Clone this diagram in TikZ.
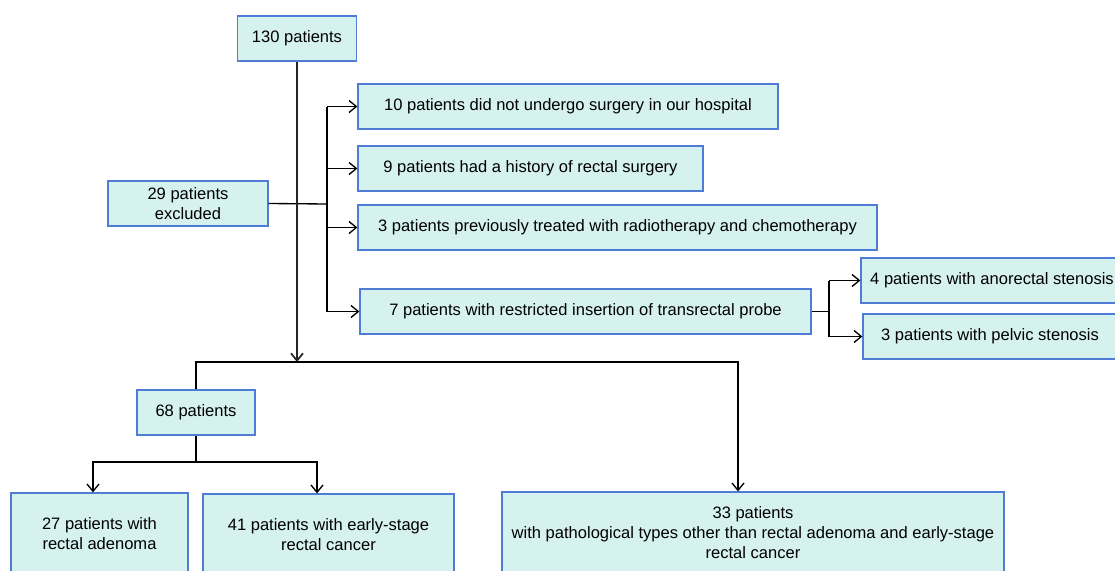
\documentclass[tikz,border=0pt]{standalone}
\usepackage{fontspec}
\setmainfont{Liberation Sans}
\usetikzlibrary{arrows.meta}
\definecolor{boxfill}{RGB}{214,242,238}
\definecolor{boxline}{RGB}{79,125,214}
\tikzstyle{box} = [rectangle, draw=boxline, line width=0.9pt, fill=boxfill, minimum height=33.75pt, inner sep=2pt, text centered, align=center, font=\fontsize{12.4}{15}\selectfont]
\tikzstyle{tall} = [box, minimum height=61.5pt]
\tikzstyle{line} = [line width=1pt, black]
\tikzstyle{arrow} = [line, -{Straight Barb[length=5.5pt,width=9pt]}]

\begin{document}
\begin{tikzpicture}[x=0.75pt, y=-0.75pt]
				\useasboundingbox (0,0) rectangle (1115,571);
				\node (n130) [box, minimum width=89.25pt] at (297,38.5) {130 patients};
				\node (exc) [box, minimum width=120pt] at (188,203.5) {29 patients\\excluded};
				\node (n10) [box, minimum width=315pt] at (568,106.5) {10 patients did not undergo surgery in our hospital};
				\node (n9) [box, minimum width=258.75pt] at (530.5,168.5) {9 patients had a history of rectal surgery};
				\node (n3) [box, minimum width=389.25pt] at (617.5,227.5) {3 patients previously treated with radiotherapy and chemotherapy};
				\node (n7) [box, minimum width=338.25pt] at (585.5,311.5) {7 patients with restricted insertion of transrectal probe};
				\node (n4) [box, minimum width=196.5pt] at (992,280.5) {4 patients with anorectal stenosis};
				\node (pel) [box, minimum width=190.5pt] at (990,336.5) {3 patients with pelvic stenosis};
				\node (n68) [box, minimum width=88.5pt] at (196,412.5) {68 patients};
				\node (n27) [tall, minimum width=132.75pt] at (99.5,534) {27 patients with\\rectal adenoma};
				\node (n41) [tall, minimum width=188.25pt] at (328.5,535) {41 patients with early-stage\\rectal cancer};
				\node (n33) [tall, minimum width=376.5pt] at (753,533) {33 patients\\with pathological types other than rectal adenoma and early-stage\\rectal cancer};

				% exclusions
				\coordinate (bx) at (327,204);
				\draw [line] (exc.east) -- (bx);
				\draw [line] (bx |- n10) -- (bx |- n7);
				\foreach \n in {n10,n9,n3,n7}
					\draw [arrow] (bx |- \n) -- (\n.west);
				\coordinate (sx) at (829,311.5);
				\draw [line] (n7.east) -- (sx);
				\draw [line] (sx |- n4) -- (sx |- pel);
				\draw [arrow] (sx |- n4) -- (n4.west);
				\draw [arrow] (sx |- pel) -- (pel.west);

				% main flow
				\coordinate (split) at (297,362);
				\coordinate (to33) at (738,362);
				\draw [arrow, black!85, line width=1.3pt] (n130.south) -- (split);
				\draw [arrow] (n68.north) |- (to33) -- (to33 |- n33.north);
				\coordinate (fork) at (196,462);
				\coordinate (a27) at (93,462);
				\coordinate (a41) at (317,462);
				\draw [line] (n68.south) -- (fork);
				\draw [arrow] (fork) -- (a27) -- (a27 |- n27.north);
				\draw [arrow] (fork) -- (a41) -- (a41 |- n41.north);
		\end{tikzpicture}
\end{document}
